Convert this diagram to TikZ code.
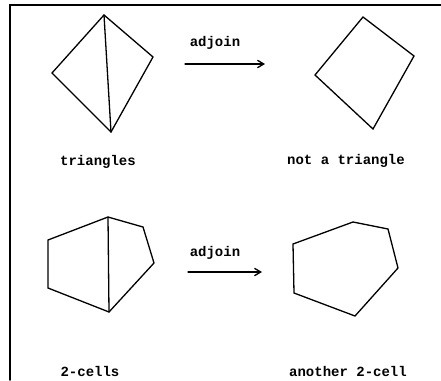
\documentclass[tikz,border=0pt]{standalone}
\usepackage{fontspec}
\setmonofont{Liberation Mono}
\usetikzlibrary{arrows.meta}
\tikzset{>={Straight Barb[length=2.2mm,width=2.6mm]}}
\tikzset{
  CellEdge/.style={line width=1.3pt, line join=miter},
  CellLabel/.style={font=\ttfamily\bfseries\fontsize{14}{14}\selectfont, inner sep=1pt},
  AdjoinArrow/.style={line width=1.3pt, ->}
}

\begin{document}
\begin{tikzpicture}[x=1pt, y=-1pt, line cap=round]
  \useasboundingbox (0,0) rectangle (441,380);
  % frame
  \draw[line width=1.6pt] (441,5) -- (10,5) -- (10,380);

  % triangles
  \coordinate (Tt) at (104,15);
  \coordinate (Tr) at (153,57);
  \coordinate (Tb) at (111,132);
  \coordinate (Tl) at (52,73);
  \draw[CellEdge] (Tt) -- (Tr) -- (Tb) -- (Tl) -- cycle;
  \draw[CellEdge] (Tt) -- (Tb);
  \node[CellLabel] (triangles) at (98,162) {triangles};

  % not a triangle
  \coordinate (Qt) at (363,17);
  \coordinate (Qr) at (414,56);
  \coordinate (Qb) at (373,129);
  \coordinate (Ql) at (315,75);
  \draw[CellEdge] (Qt) -- (Qr) -- (Qb) -- (Ql) -- cycle;
  \node[CellLabel] (quad) at (346,161) {not a triangle};

  \coordinate (A1s) at (185,64);
  \coordinate (A1e) at (265,64);
  \draw[AdjoinArrow] (A1s) -- (A1e);
  \node[CellLabel] (adjoinA) at (215,43) {adjoin};

  % 2-cells
  \coordinate (Pt) at (108,217);
  \coordinate (Pul) at (48,240);
  \coordinate (Pll) at (48,288);
  \coordinate (Pb) at (109,312);
  \coordinate (Pur) at (143,227);
  \coordinate (Pr) at (154,263);
  \draw[CellEdge] (Pt) -- (Pur) -- (Pr) -- (Pb) -- (Pll) -- (Pul) -- cycle;
  \draw[CellEdge] (Pt) -- (Pb);
  \node[CellLabel] (cells) at (90,371) {2-cells};

  % another 2-cell
  \coordinate (Ha) at (293,244);
  \coordinate (Hb) at (353,222);
  \coordinate (Hc) at (388,229);
  \coordinate (Hd) at (398,268);
  \coordinate (He) at (355,316);
  \coordinate (Hf) at (294,293);
  \draw[CellEdge] (Ha) -- (Hb) -- (Hc) -- (Hd) -- (He) -- (Hf) -- cycle;
  \node[CellLabel] (another) at (348,371) {another 2-cell};

  \coordinate (A2s) at (188,272);
  \coordinate (A2e) at (262,272);
  \draw[AdjoinArrow] (A2s) -- (A2e);
  \node[CellLabel] (adjoinB) at (215,253) {adjoin};
\end{tikzpicture}
\end{document}
